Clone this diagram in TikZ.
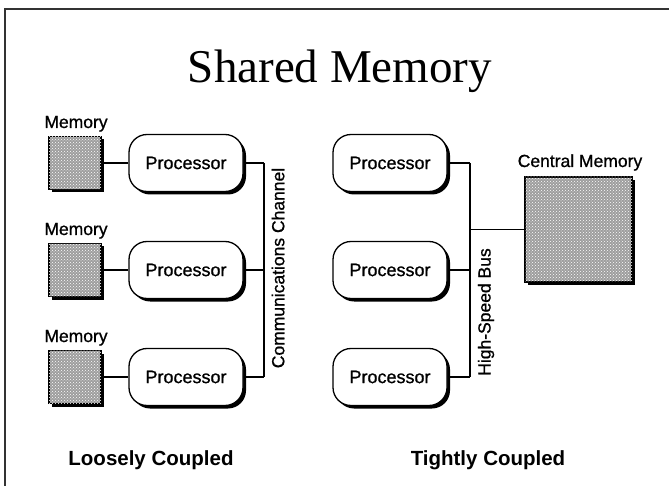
\documentclass[tikz,border=0pt]{standalone}
\usepackage{fontspec}
\setmainfont{Liberation Serif}
\setsansfont{Liberation Sans}
\newfontfamily\labelfont{Liberation Sans}[FakeBold=0.9]
\usetikzlibrary{patterns,shadows}

\tikzset{
  frameline/.style={line width=1.4pt, draw=black!80},
  wire/.style={line width=1.2pt},
  procbox/.style={draw, line width=1.3pt, fill=white, rounded corners=18pt,
    minimum width=114pt, minimum height=57pt, inner sep=0pt,
    font=\labelfont\fontsize{18}{18}\selectfont,
    general shadow={fill=black, shadow xshift=3pt, shadow yshift=-3pt}},
  membox/.style={draw, line width=1.2pt, fill=black!38,
    postaction={pattern=crosshatch dots, pattern color=white},
    inner sep=0pt,
    general shadow={fill=black, shadow xshift=3pt, shadow yshift=-3pt}},
  lbl/.style={font=\labelfont\fontsize{17.5}{18}\selectfont, inner sep=0pt},
  caption/.style={font=\sffamily\bfseries\fontsize{20.5}{21}\selectfont, inner sep=0pt},
}

\begin{document}
\begin{tikzpicture}[x=1pt, y=-1pt]
  \useasboundingbox (0,0) rectangle (669,486);

  % slide frame
  \draw[frameline] (5,486) -- (5,9) -- (669,9);

  % title
  \node[font=\fontsize{47}{50}\selectfont, anchor=base, inner sep=0pt] (title) at (340,83) {Shared Memory};

  % ---- loosely coupled side ----
  \foreach \i/\y in {1/163, 2/270, 3/377} {
    \node[membox, minimum width=52pt, minimum height=53pt] (mem\i) at (75,\y) {};
    \node[lbl, anchor=base] (memlbl\i) at (76,\y-35) {Memory};
    \node[procbox] (lp\i) at (186,\y) {Processor};
    \coordinate (ch\i) at (264,\y);
    \draw[wire] (mem\i.east) -- (lp\i.west);
    \draw[wire] (lp\i.east) -- (ch\i);
  }
  \draw[wire] (ch1) -- (ch3);
  \node[lbl, rotate=90] (chanlbl) at (278,268) {Communications Channel};

  % ---- tightly coupled side ----
  \foreach \i/\y in {1/163, 2/270, 3/377} {
    \node[procbox] (rp\i) at (390,\y) {Processor};
    \coordinate (bs\i) at (470,\y);
    \draw[wire] (rp\i.east) -- (bs\i);
  }
  \draw[wire] (bs1) -- (bs3);
  \node[lbl, rotate=90] (buslbl) at (486,312) {High-Speed Bus};

  \node[membox, minimum width=107pt, minimum height=105pt] (cmem) at (578.5,229.5) {};
  \node[lbl, anchor=base] (cmemlbl) at (580,167) {Central Memory};
  \coordinate (bsm) at (470,229.5);
  \draw[wire] (bsm) -- (cmem.west);

  % captions
  \node[caption] (loose) at (151,460) {Loosely Coupled};
  \node[caption] (tight) at (488,460) {Tightly Coupled};
\end{tikzpicture}
\end{document}
